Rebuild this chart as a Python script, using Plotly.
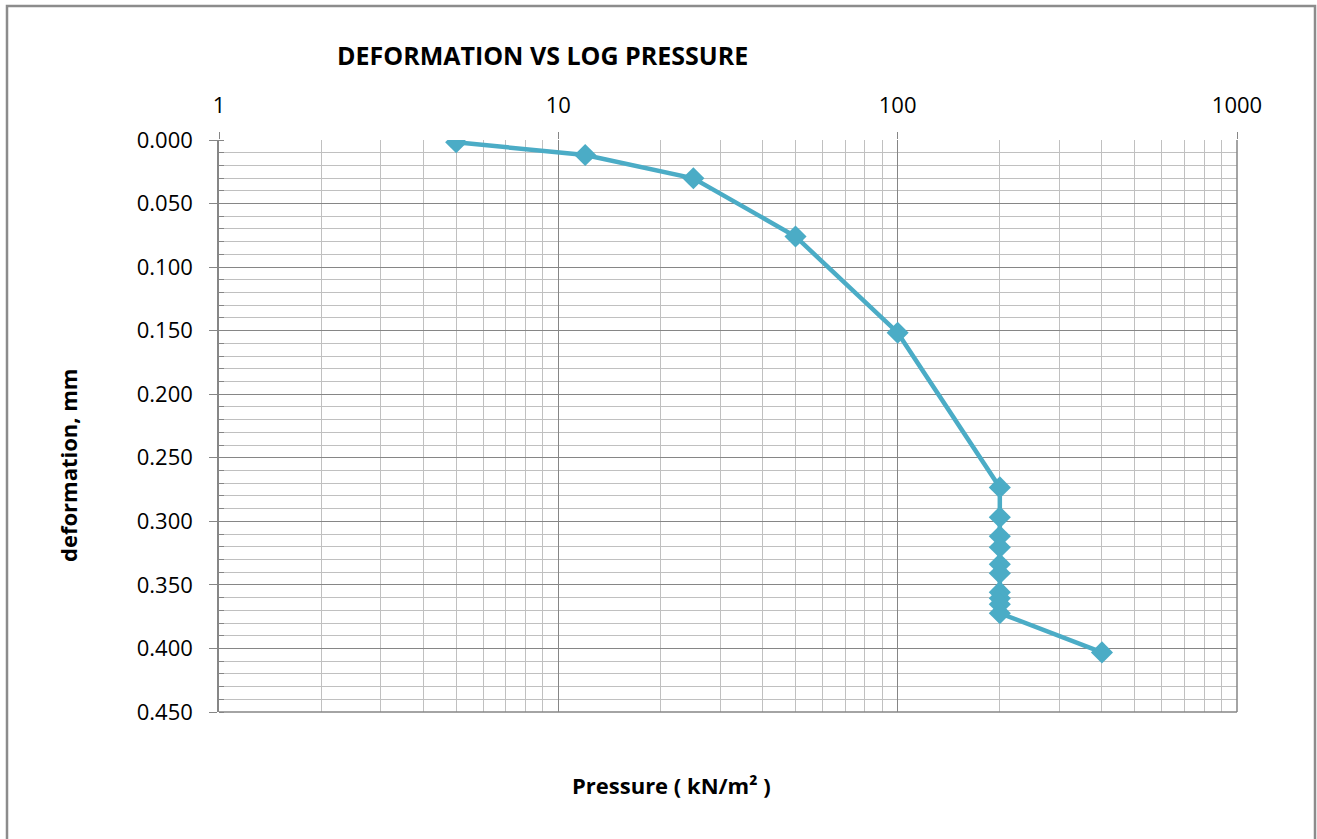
import plotly.graph_objects as go

pressure = [5, 12, 25, 50, 100, 200, 200, 200, 200, 200, 200, 200, 200, 200, 200, 400]
deformation = [0.0018, 0.0118, 0.0301, 0.0759, 0.1516, 0.2733, 0.2968, 0.3117,
               0.3204, 0.3338, 0.3408, 0.3557, 0.3605, 0.3652, 0.3723, 0.4031]
x_tick_vals = [1, 10, 100, 1000]
x_tick_text = ["1", "10", "100", "1000"]

FONT = "Open Sans"
MAJOR = "#868686"
MINOR = "#c0c0c0"

fig = go.Figure()
fig.add_trace(go.Scatter(
    x=pressure, y=deformation, mode="lines+markers",
    line=dict(color="#4BACC6", width=4.5),
    marker=dict(symbol="diamond", size=17, color="#4BACC6"),
    showlegend=False,
))

fig.update_layout(
    width=1317, height=839,
    margin=dict(l=219, r=80, t=140, b=127),
    paper_bgcolor="white", plot_bgcolor="white",
    font=dict(family=FONT, color="black"),
    title=dict(text="<b>DEFORMATION VS LOG PRESSURE</b>",
               font=dict(size=25, family=FONT, color="black"),
               x=(337 - 219) / 1018, xref="paper", xanchor="left",
               y=1 - 56 / 839, yref="container", yanchor="middle"),
    xaxis=dict(
        type="log", range=[0, 3], side="top",
        tickvals=x_tick_vals, ticktext=x_tick_text,
        tickfont=dict(size=22, family=FONT),
        showgrid=True, gridcolor=MAJOR, gridwidth=1.3,
        ticks="outside", ticklen=7, tickcolor=MAJOR, tickwidth=1.3,
        ticklabelstandoff=10,
        showline=False, zeroline=False,
        minor=dict(showgrid=True, gridcolor=MINOR, gridwidth=1.3, dtick="D1", ticks=""),
    ),
    yaxis=dict(
        range=[0.45, 0], autorange=False,
        dtick=0.05, tickformat=".3f",
        tickfont=dict(size=22, family=FONT),
        showgrid=True, gridcolor=MAJOR, gridwidth=1.3,
        ticks="outside", ticklen=8, tickcolor=MAJOR, tickwidth=1.3,
        ticklabelstandoff=12,
        showline=True, linecolor=MAJOR, linewidth=1.5,
        zeroline=False,
        minor=dict(showgrid=True, gridcolor=MINOR, gridwidth=1.3, dtick=0.01,
                   ticks="inside", ticklen=5, tickcolor=MAJOR),
    ),
    annotations=[
        dict(text="<b>Pressure ( kN/m² )</b>", xref="paper", yref="paper",
             x=(671 - 219) / 1018, y=(712 - 785) / 572, xanchor="center", yanchor="middle",
             showarrow=False, font=dict(size=22, family=FONT, color="black")),
        dict(text="<b>deformation, mm</b>", xref="paper", yref="paper",
             x=(68 - 219) / 1018, y=(712 - 466) / 572, xanchor="center", yanchor="middle",
             textangle=-90, showarrow=False, font=dict(size=22, family=FONT, color="black")),
    ],
    shapes=[
        dict(type="line", xref="paper", yref="paper",
             x0=1, x1=1, y0=0, y1=1, line=dict(color=MAJOR, width=1.5)),
        dict(type="line", xref="paper", yref="paper",
             x0=0, x1=1, y0=0, y1=0, line=dict(color=MAJOR, width=1.5)),
        dict(type="rect", xref="paper", yref="paper",
             x0=(7 - 219) / 1018, x1=(1315 - 219) / 1018,
             y0=(712 - 850) / 572, y1=(712 - 6) / 572,
             line=dict(color="#8c8c8c", width=2.5), fillcolor="rgba(0,0,0,0)", layer="below"),
    ],
)

fig.write_html("out.html", config={"displayModeBar": False})

# remove default page margin so the figure sits at the window origin
with open("out.html", encoding="utf-8") as f:
    html = f.read()
html = html.replace("<head>", "<head><style>html,body{margin:0;padding:0;overflow:hidden;}</style>", 1)
with open("out.html", "w", encoding="utf-8") as f:
    f.write(html)
